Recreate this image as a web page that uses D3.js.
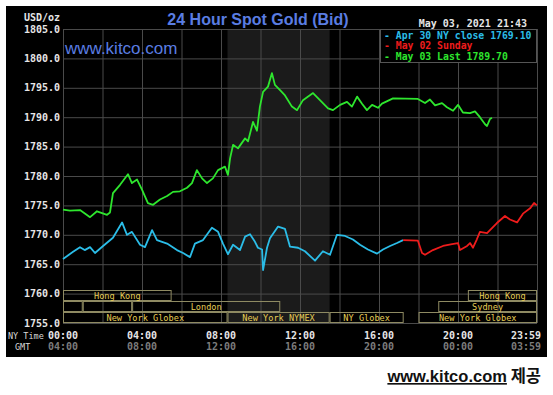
<!DOCTYPE html>
<html>
<head>
<meta charset="utf-8">
<script src="https://cdn.jsdelivr.net/npm/d3@7"></script>
<style>
  body { margin: 0; background: #fff; }
  svg { display: block; }
</style>
</head>
<body>
<div id="chart"></div>
<script>
// values (hour of NY day, USD/oz)
var apr30Close = [
  [0, 1765.9], [0.51, 1767.1], [0.86, 1767.9], [1.1, 1767.4], [1.37, 1767.9], [1.62, 1766.9],
  [2.03, 1768.1], [2.53, 1769.5], [2.99, 1772.1], [3.24, 1770.0], [3.49, 1770.5], [3.9, 1768.3],
  [4.15, 1767.9], [4.51, 1770.8], [4.76, 1769.1], [5.27, 1768.5], [5.77, 1767.4], [6.08, 1766.9],
  [6.43, 1766.2], [6.68, 1768.5], [7.09, 1769.1], [7.54, 1771.2], [7.85, 1770.5], [8.1, 1768.5],
  [8.35, 1766.7], [8.61, 1768.3], [8.96, 1767.4], [9.22, 1769.7], [9.47, 1770.1], [9.72, 1768.8],
  [9.87, 1767.8], [10.08, 1767.5], [10.13, 1764.0], [10.33, 1767.8], [10.48, 1769.4], [10.89, 1771.4],
  [11.24, 1771.0], [11.49, 1768.0], [11.9, 1767.8], [12.25, 1767.2], [12.76, 1765.6], [13.16, 1767.2],
  [13.52, 1766.6], [13.87, 1770.0], [14.28, 1769.8], [14.68, 1769.2], [15.04, 1768.3], [15.44, 1767.5],
  [15.9, 1766.8], [16.2, 1767.5], [16.56, 1768.1], [16.91, 1768.6], [17.22, 1769.1]
];
var may02Sunday = [
  [17.22, 1769.1], [17.97, 1769.0], [18.18, 1766.9], [18.33, 1766.6], [18.73, 1767.4], [19.24, 1768.1],
  [19.7, 1768.4], [20.0, 1768.6], [20.1, 1767.4], [20.46, 1768.1], [20.61, 1768.6], [20.76, 1767.8],
  [20.95, 1769.2], [21.11, 1770.5], [21.47, 1770.3], [21.62, 1770.8], [21.97, 1772.0], [22.38, 1773.2],
  [22.63, 1772.6], [22.99, 1772.1], [23.29, 1773.6], [23.65, 1774.5], [23.85, 1775.4], [24, 1775.0]
];
var may03Last = [
  [0, 1774.3], [0.35, 1774.1], [0.86, 1774.2], [1.37, 1773.0], [1.72, 1774.0], [2.23, 1773.4],
  [2.38, 1773.8], [2.53, 1777.1], [2.89, 1778.5], [3.29, 1780.3], [3.49, 1778.8], [3.75, 1779.4],
  [4.0, 1777.7], [4.3, 1775.4], [4.56, 1775.1], [4.91, 1776.0], [5.27, 1776.6], [5.57, 1777.3],
  [5.92, 1777.4], [6.28, 1778.0], [6.53, 1778.8], [6.78, 1781.0], [7.04, 1779.6], [7.29, 1778.8],
  [7.59, 1779.6], [7.85, 1781.0], [8.2, 1781.6], [8.35, 1780.2], [8.46, 1783.0], [8.61, 1785.3],
  [8.86, 1784.7], [9.22, 1786.4], [9.37, 1785.9], [9.62, 1789.2], [9.82, 1787.7], [9.97, 1791.8],
  [10.13, 1794.3], [10.38, 1795.2], [10.58, 1797.5], [10.73, 1795.5], [10.99, 1794.6], [11.24, 1793.7],
  [11.59, 1791.8], [11.85, 1791.2], [12.15, 1792.9], [12.66, 1794.1], [13.01, 1792.9], [13.42, 1791.5],
  [13.67, 1791.2], [14.03, 1792.1], [14.38, 1792.6], [14.63, 1791.8], [14.89, 1793.5], [15.14, 1792.3],
  [15.39, 1791.2], [15.65, 1792.1], [15.95, 1791.6], [16.15, 1792.3], [16.71, 1793.2], [17.97, 1793.1],
  [18.33, 1792.4], [18.58, 1793.0], [18.84, 1792.0], [19.19, 1792.4], [19.44, 1791.7], [19.75, 1791.1],
  [20.0, 1792.1], [20.25, 1790.8], [20.61, 1790.7], [20.86, 1791.0], [21.11, 1790.0], [21.37, 1788.8],
  [21.47, 1788.5], [21.62, 1789.7], [21.72, 1789.9]
];

var legendLabels = ["Apr 30 NY close 1769.10", "May 02 Sunday", "May 03 Last 1789.70"];
var seriesColors = ["#2bbde8", "#ee1c1c", "#2ee62e"];

var priceTicks = [1755, 1760, 1765, 1770, 1775, 1780, 1785, 1790, 1795, 1800, 1805];
var gridHours = [0, 2, 4, 6, 8, 10, 12, 14, 16, 18, 20, 22, 24];
var labelHours = [0, 4, 8, 12, 16, 20, 24];
var nyTimeLabels = ["00:00", "04:00", "08:00", "12:00", "16:00", "20:00", "23:59"];
var gmtLabels = ["04:00", "08:00", "12:00", "16:00", "20:00", "00:00", "03:59"];

// trading sessions (row 0 = top strip)
var sessions = [
  {label: "Hong Kong", row: 0, start: 0, end: 5.5},
  {label: "", row: 1, start: 0, end: 1},
  {label: "", row: 1, start: 1, end: 3.5},
  {label: "London", row: 1, start: 3.5, end: 11},
  {label: "New York Globex", row: 2, start: 0, end: 8.33},
  {label: "New York NYMEX", row: 2, start: 8.33, end: 13.5},
  {label: "NY Globex", row: 2, start: 13.5, end: 17.25},
  {label: "New York Globex", row: 2, start: 18, end: 24},
  {label: "Sydney", row: 1, start: 19, end: 24},
  {label: "Hong Kong", row: 0, start: 20.5, end: 24}
];
var nymexHours = [8.33, 13.5];

var W = 553, H = 395;
var mono = "'DejaVu Sans Mono', monospace";
var sans = "'Liberation Sans', Arial, sans-serif";

var svg = d3.select("#chart").append("svg").attr("width", W).attr("height", H);

// black panel
svg.append("rect").attr("x", 6).attr("y", 6).attr("width", 541).attr("height", 351).attr("fill", "#000");

var x = d3.scaleLinear().domain([0, 24]).range([63, 537]);
var y = d3.scaleLinear().domain([1755, 1805]).range([323, 29]);

// NYMEX shading
svg.append("rect")
  .attr("x", x(nymexHours[0])).attr("y", y(1805))
  .attr("width", x(nymexHours[1]) - x(nymexHours[0]))
  .attr("height", y(1755) - y(1805))
  .attr("fill", "#1b1b1b");

// grid
var gx = svg.append("g").attr("transform", "translate(0," + y(1755) + ")")
  .call(d3.axisBottom(x).tickValues(gridHours).tickSize(-(y(1755) - y(1805))).tickFormat(""));
var gy = svg.append("g").attr("transform", "translate(" + x(0) + ",0)")
  .call(d3.axisLeft(y).tickValues(priceTicks).tickSize(-(x(24) - x(0))).tickFormat(""));
[gx, gy].forEach(function (g) {
  g.select(".domain").remove();
  g.selectAll(".tick line").attr("stroke", "#4a4a4a").attr("stroke-width", 1);
});

// y labels
svg.append("g").selectAll("text").data(priceTicks).enter().append("text")
  .attr("x", 60).attr("y", function (d) { return y(d); })
  .attr("dy", "0.35em")
  .attr("text-anchor", "end")
  .attr("font-family", mono).attr("font-size", 10).attr("font-weight", "bold")
  .attr("fill", "#e6e6e6")
  .text(function (d) { return d3.format(".1f")(d); });

svg.append("text").attr("x", 60).attr("y", 21).attr("text-anchor", "end")
  .attr("font-family", mono).attr("font-size", 10).attr("font-weight", "bold")
  .attr("fill", "#e6e6e6").text("USD/oz");

// x labels
labelHours.forEach(function (h, i) {
  var last = i === labelHours.length - 1;
  var px = last ? x(h) + 4 : x(h);
  var anchor = last ? "end" : "middle";
  svg.append("text").attr("x", px).attr("y", 339).attr("text-anchor", anchor)
    .attr("font-family", mono).attr("font-size", 10).attr("font-weight", "bold")
    .attr("fill", "#e6e6e6").text(nyTimeLabels[i]);
  svg.append("text").attr("x", px).attr("y", 350).attr("text-anchor", anchor)
    .attr("font-family", mono).attr("font-size", 10).attr("font-weight", "bold")
    .attr("fill", "#7c7c7c").text(gmtLabels[i]);
});
svg.append("text").attr("x", 8).attr("y", 339)
  .attr("font-family", mono).attr("font-size", 8.5).attr("fill", "#d8d8d8").text("NY Time");
svg.append("text").attr("x", 15).attr("y", 350)
  .attr("font-family", mono).attr("font-size", 8.5).attr("fill", "#d8d8d8").text("GMT");

// session strips
var rowH = 11;
var sess = svg.append("g").selectAll("g").data(sessions).enter().append("g");
sess.append("rect")
  .attr("x", function (d) { return x(d.start) + 0.5; })
  .attr("y", function (d) { return y(1755) - (3 - d.row) * rowH + 0.5; })
  .attr("width", function (d) { return x(d.end) - x(d.start) - 1; })
  .attr("height", rowH - 1)
  .attr("fill", "none").attr("stroke", "#8e8a62").attr("stroke-width", 1);
sess.append("text")
  .attr("x", function (d) { return (x(d.start) + x(d.end)) / 2; })
  .attr("y", function (d) { return y(1755) - (3 - d.row) * rowH + 8.5; })
  .attr("text-anchor", "middle")
  .attr("font-family", mono).attr("font-size", 8.6)
  .attr("fill", "#e6cc55")
  .text(function (d) { return d.label; });

// price lines
var line = d3.line().x(function (d) { return x(d[0]); }).y(function (d) { return y(d[1]); });
[apr30Close, may02Sunday, may03Last].forEach(function (s, i) {
  svg.append("path").datum(s).attr("d", line)
    .attr("fill", "none").attr("stroke", seriesColors[i])
    .attr("stroke-width", 1.8).attr("stroke-linejoin", "round");
});

// title and watermark
svg.append("text").attr("x", 258).attr("y", 25).attr("text-anchor", "middle")
  .attr("font-family", sans).attr("font-size", 16).attr("font-weight", "bold")
  .attr("fill", "#5a7de2").text("24 Hour Spot Gold (Bid)");
svg.append("text").attr("x", 65).attr("y", 54)
  .attr("font-family", sans).attr("font-size", 17)
  .attr("fill", "#5a7de2").text("www.kitco.com");

svg.append("text").attr("x", 527).attr("y", 27).attr("text-anchor", "end")
  .attr("font-family", mono).attr("font-size", 10).attr("font-weight", "bold")
  .attr("fill", "#e6e6e6").text("May 03, 2021 21:43");

// legend box
svg.append("rect").attr("x", 380.5).attr("y", 29.5).attr("width", 156).attr("height", 33)
  .attr("fill", "#000").attr("stroke", "#555");
legendLabels.forEach(function (lab, i) {
  svg.append("text").attr("x", 384).attr("y", 38.5 + i * 10.8)
    .attr("font-family", mono).attr("font-size", 9.8).attr("font-weight", "bold")
    .attr("fill", seriesColors[i]).text("- " + lab);
});

// source note
var note = svg.append("text").attr("x", 541).attr("y", 382).attr("text-anchor", "end")
  .attr("font-family", "'Liberation Sans', 'Noto Sans CJK KR', sans-serif")
  .attr("font-size", 16.5).attr("font-weight", "bold").attr("fill", "#111");
note.append("tspan").attr("text-decoration", "underline").text("www.kitco.com");
note.append("tspan").attr("font-family", "'Noto Sans CJK KR', sans-serif").attr("font-weight", "bold").text(" 제공");
</script>
</body>
</html>
